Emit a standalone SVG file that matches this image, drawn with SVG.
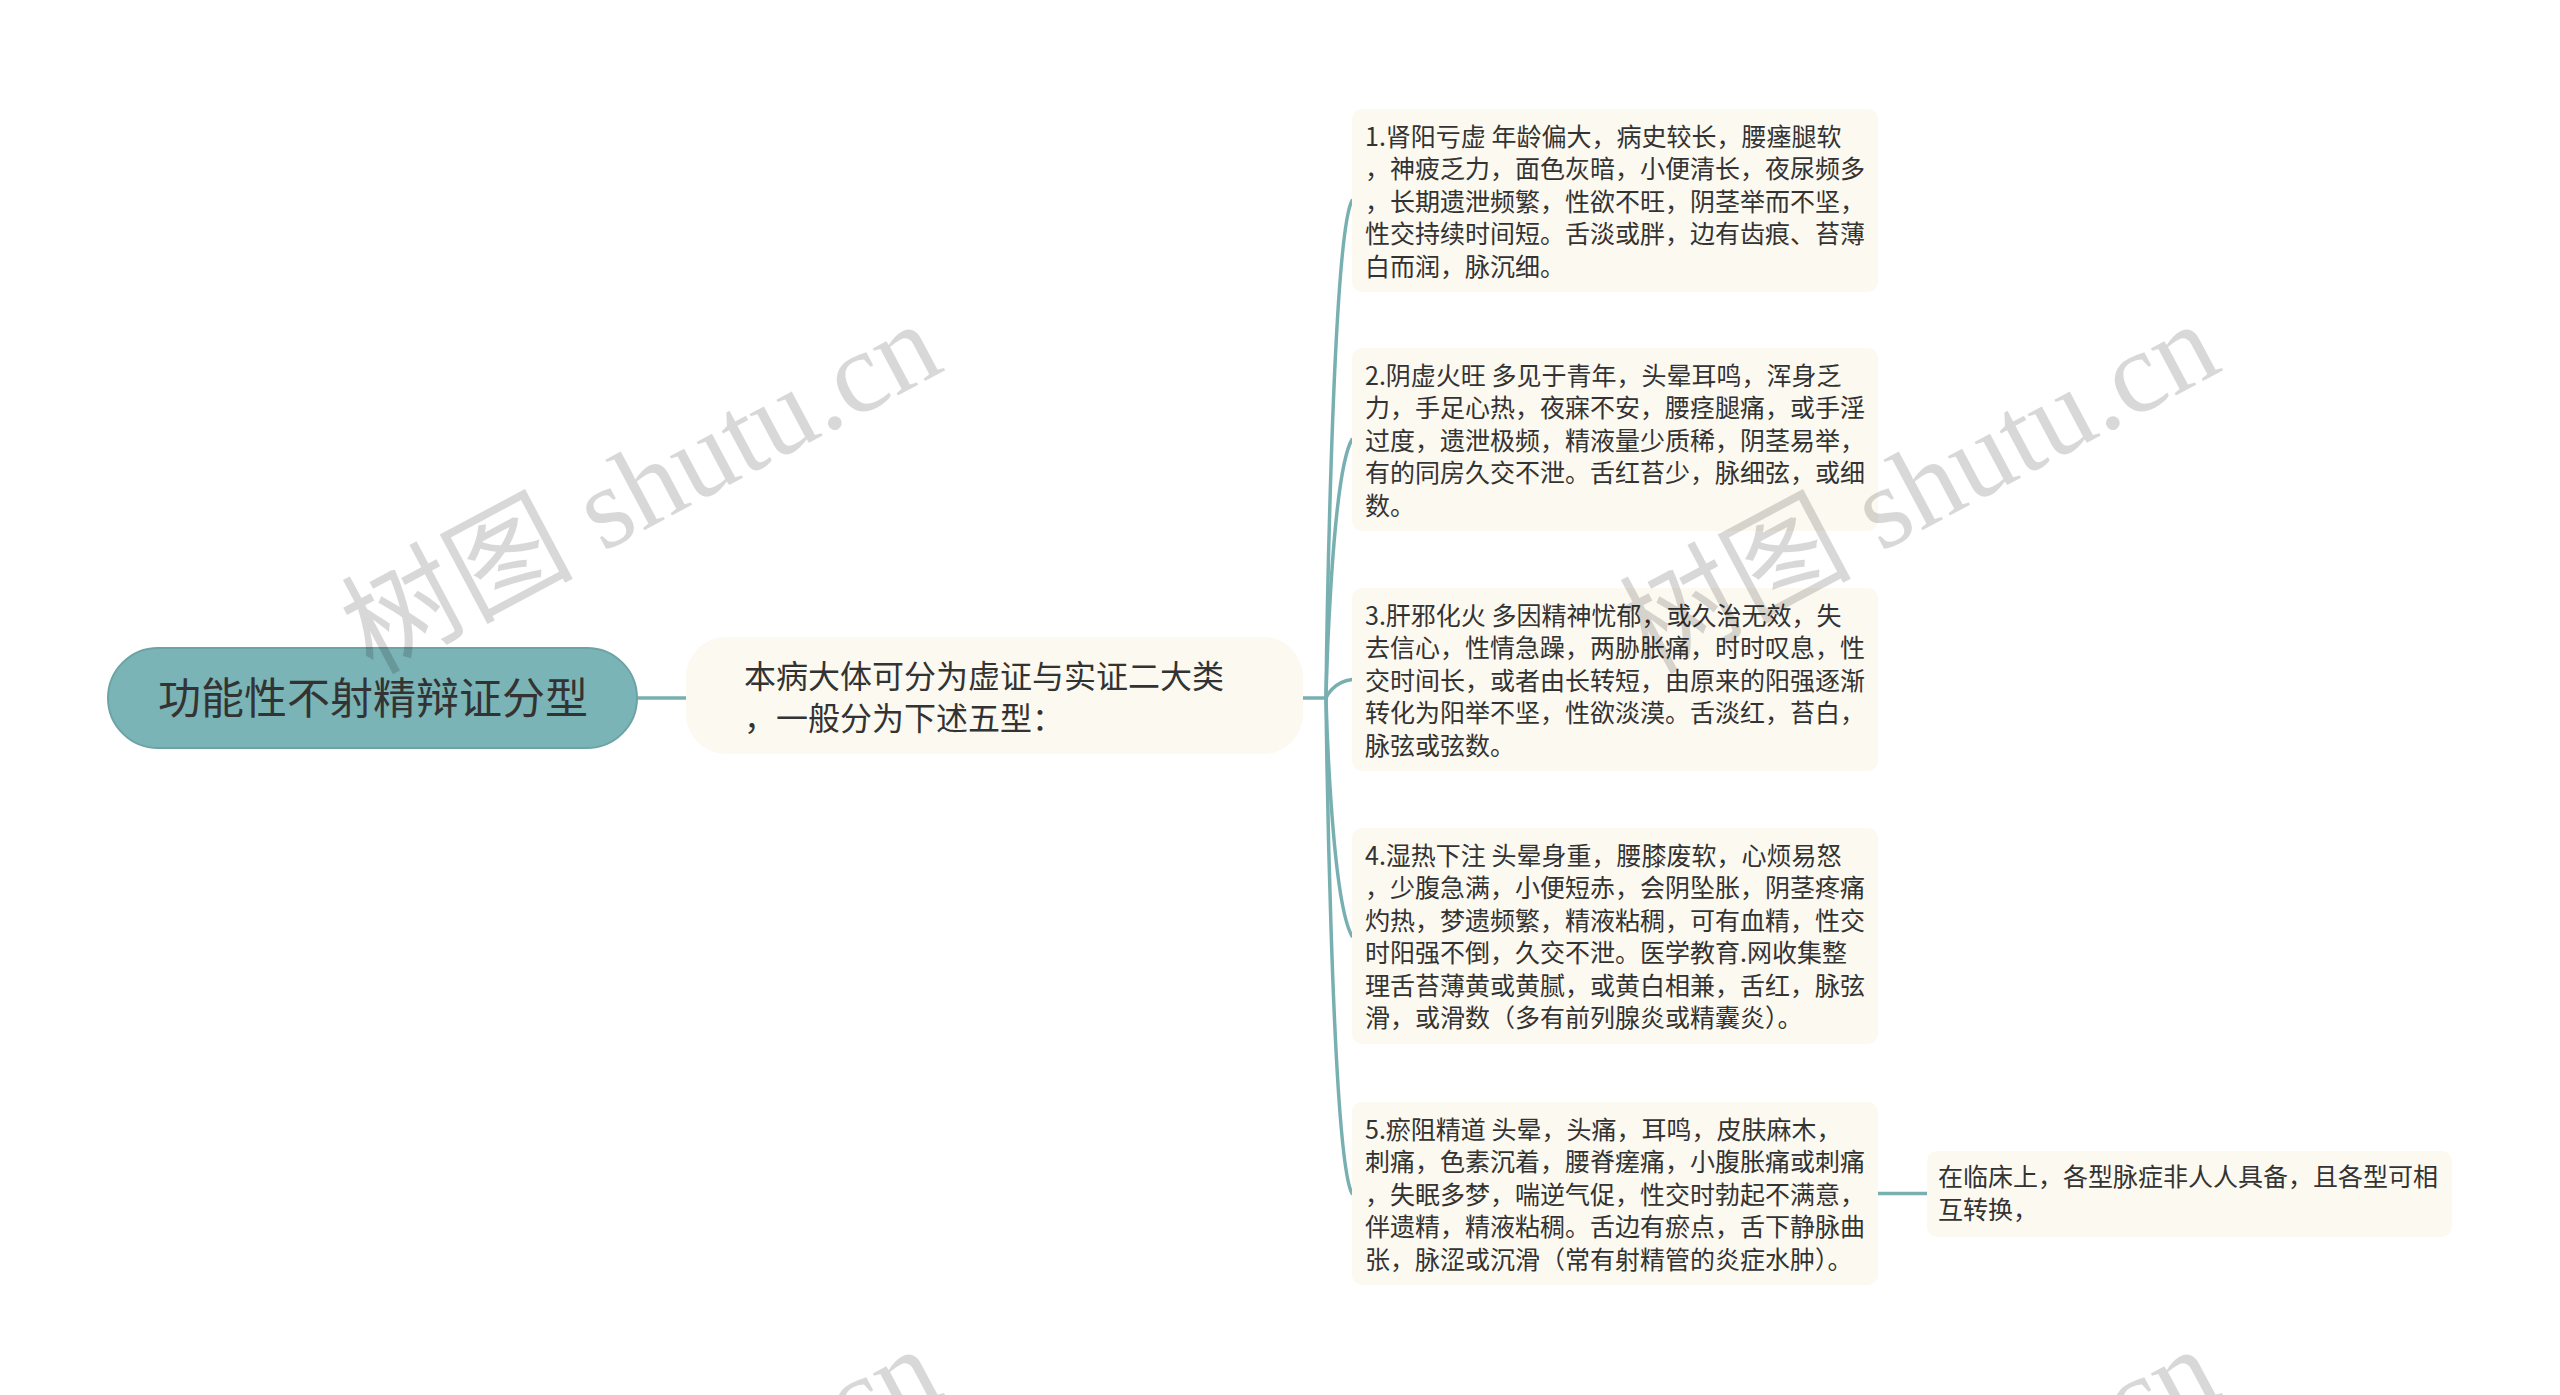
<svg xmlns="http://www.w3.org/2000/svg" width="2560" height="1395" viewBox="0 0 2560 1395">
<style>
.bg{fill:#ffffff}
.root{fill:#7bb4b6;stroke:#6ca4a6;stroke-width:2}
.box{fill:#fcf9f0}
.t{font-family:"Noto Sans CJK SC","Noto Sans",sans-serif;fill:#333333}
.leaf{font-size:25px}
.conn{fill:none;stroke:#78b0b2;stroke-width:3.5;stroke-linecap:round}
.wm{font-family:"Liberation Serif","Noto Sans CJK SC",serif;font-size:116px;fill:#000000;opacity:0.15}
</style>
<rect class="bg" x="0" y="0" width="2560" height="1395"/>
<g id="connectors">
<path class="conn" d="M637 698 L686 698"/>
<path class="conn" d="M1303 698 L1326 698"/>
<path class="conn" d="M1326 698 C1326 698 1331 240 1352 200.5"/>
<path class="conn" d="M1326 698 C1326 698 1331 475 1352 439.5"/>
<path class="conn" d="M1326 698 C1326 698 1332 682 1352 679.5"/>
<path class="conn" d="M1326 698 C1326 698 1331 900 1352 936"/>
<path class="conn" d="M1326 698 C1326 698 1331 1155 1352 1193.5"/>
<path class="conn" d="M1878 1193.5 L1927 1193.5"/>
</g>
<g id="root">
<rect class="root" x="108" y="648" width="529" height="100" rx="50"/>
<text class="t" x="373" y="713.5" font-size="43" text-anchor="middle">功能性不射精辩证分型</text>
</g>
<g id="node-main">
<rect class="box" x="686" y="637" width="617" height="117" rx="40"/>
<text class="t" font-size="32"><tspan x="744" y="687.5">本病大体可分为虚证与实证二大类</tspan><tspan x="744" y="729.5">，一般分为下述五型：</tspan></text>
</g>
<g id="leaf1">
<rect class="box" x="1352" y="109" width="526" height="183" rx="10"/>
<text class="t leaf"><tspan x="1365" y="145.5">1.肾阳亏虚 年龄偏大，病史较长，腰瘗腿软</tspan><tspan x="1365" y="178">，神疲乏力，面色灰暗，小便清长，夜尿频多</tspan><tspan x="1365" y="210.5">，长期遗泄频繁，性欲不旺，阴茎举而不坚，</tspan><tspan x="1365" y="243">性交持续时间短。舌淡或胖，边有齿痕、苔薄</tspan><tspan x="1365" y="275.5">白而润，脉沉细。</tspan></text>
</g>
<g id="leaf2">
<rect class="box" x="1352" y="348" width="526" height="183" rx="10"/>
<text class="t leaf"><tspan x="1365" y="384.5">2.阴虚火旺 多见于青年，头晕耳鸣，浑身乏</tspan><tspan x="1365" y="417">力，手足心热，夜寐不安，腰痉腿痛，或手淫</tspan><tspan x="1365" y="449.5">过度，遗泄极频，精液量少质稀，阴茎易举，</tspan><tspan x="1365" y="482">有的同房久交不泄。舌红苔少，脉细弦，或细</tspan><tspan x="1365" y="514.5">数。</tspan></text>
</g>
<g id="leaf3">
<rect class="box" x="1352" y="588" width="526" height="183" rx="10"/>
<text class="t leaf"><tspan x="1365" y="624.5">3.肝邪化火 多因精神忧郁，或久治无效，失</tspan><tspan x="1365" y="657">去信心，性情急躁，两胁胀痛，时时叹息，性</tspan><tspan x="1365" y="689.5">交时间长，或者由长转短，由原来的阳强逐渐</tspan><tspan x="1365" y="722">转化为阳举不坚，性欲淡漠。舌淡红，苔白，</tspan><tspan x="1365" y="754.5">脉弦或弦数。</tspan></text>
</g>
<g id="leaf4">
<rect class="box" x="1352" y="828" width="526" height="216" rx="10"/>
<text class="t leaf"><tspan x="1365" y="864.5">4.湿热下注 头晕身重，腰膝废软，心烦易怒</tspan><tspan x="1365" y="897">，少腹急满，小便短赤，会阴坠胀，阴茎疼痛</tspan><tspan x="1365" y="929.5">灼热，梦遗频繁，精液粘稠，可有血精，性交</tspan><tspan x="1365" y="962">时阳强不倒，久交不泄。医学教育.网收集整</tspan><tspan x="1365" y="994.5">理舌苔薄黄或黄腻，或黄白相兼，舌红，脉弦</tspan><tspan x="1365" y="1027">滑，或滑数（多有前列腺炎或精囊炎）。</tspan></text>
</g>
<g id="leaf5">
<rect class="box" x="1352" y="1102" width="526" height="183" rx="10"/>
<text class="t leaf"><tspan x="1365" y="1138.5">5.瘀阻精道 头晕，头痛，耳鸣，皮肤麻木，</tspan><tspan x="1365" y="1171">刺痛，色素沉着，腰脊瘥痛，小腹胀痛或刺痛</tspan><tspan x="1365" y="1203.5">，失眠多梦，喘逆气促，性交时勃起不满意，</tspan><tspan x="1365" y="1236">伴遗精，精液粘稠。舌边有瘀点，舌下静脉曲</tspan><tspan x="1365" y="1268.5">张，脉涩或沉滑（常有射精管的炎症水肿）。</tspan></text>
</g>
<g id="leaf6">
<rect class="box" x="1927" y="1151" width="525" height="86" rx="10"/>
<text class="t leaf"><tspan x="1938" y="1186">在临床上，各型脉症非人人具备，且各型可相</tspan><tspan x="1938" y="1219">互转换，</tspan></text>
</g>
<g id="watermark">
<text class="wm" transform="translate(372 675) rotate(-28)">树图 shutu.cn</text>
<text class="wm" transform="translate(1650 675) rotate(-28)">树图 shutu.cn</text>
<text class="wm" transform="translate(372 1700) rotate(-28)">树图 shutu.cn</text>
<text class="wm" transform="translate(1650 1700) rotate(-28)">树图 shutu.cn</text>
</g>
</svg>
